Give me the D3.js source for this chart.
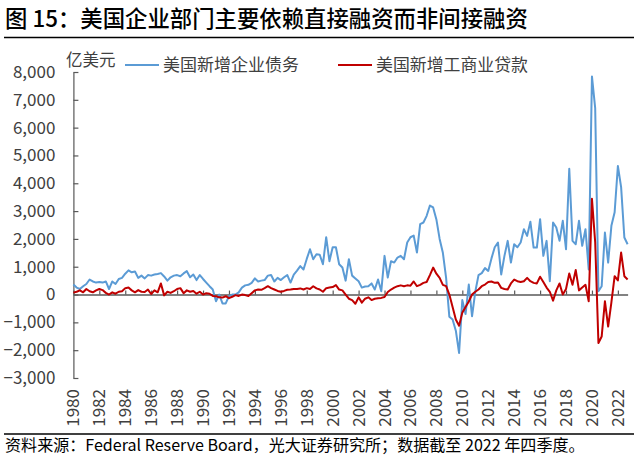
<!DOCTYPE html>
<html><head><meta charset="utf-8">
<script src="https://cdn.jsdelivr.net/npm/d3@7"></script>
<style>
html,body{margin:0;padding:0;background:#fff;}
svg{display:block;font-family:"Noto Sans CJK SC","Noto Sans",sans-serif;}
</style></head>
<body><svg id="c" width="640" height="461"></svg>
<script>
const titleText = "图 15：美国企业部门主要依赖直接融资而非间接融资";
const sourceText = "资料来源：Federal Reserve Board，光大证券研究所；数据截至 2022 年四季度。";
const unitText = "亿美元";
const seriesNames = ["美国新增企业债务", "美国新增工商业贷款"];
const startYear = 1980;
const yearLabels = ["1980","1982","1984","1986","1988","1990","1992","1994","1996","1998","2000","2002","2004","2006","2008","2010","2012","2014","2016","2018","2020","2022"];
const yTicks = [-3000,-2000,-1000,0,1000,2000,3000,4000,5000,6000,7000,8000];

// quarterly, 1980Q1 - 2022Q4
const bonds = [
 360,250,200,300, 380,540,470,430, 450,430,470,200, 470,380,560,600,
 750,870,800,830, 600,680,580,700, 680,720,740,770, 650,500,620,680,
 700,660,760,840, 620,720,520,700, 560,430,300,180, -240,0,-320,-320,
 -60,0,0,80, 250,330,350,420, 580,470,500,520, 680,700,470,600,
 520,620,700,430, 720,860,1020,900, 1280,1630,1270,1450, 1430,1090,2060,1200,
 1700,1700,1090,970, 500,1270,680,580, 480,250,290,300, 400,180,540,120,
 1390,610,1200,1150, 1330,1390,1270,1870, 2060,2120,1510,2530, 2590,2830,3200,3130,
 2700,2000,1500,600, -800,-900,-1300,-2100, -200,-700,360,-780, 100,700,770,950,
 850,1300,1700,1870, 720,1390,1930,1150, 1810,1700,1870,2350, 2110,2620,1690,1690,
 2710,1390,1930,480, 2590,2410,1930,2650, 1630,4520,1930,1810, 2650,1750,2350,900,
 7840,6700,120,300, 2230,1150,2470,2960, 4620,3860,2050,1810
];
const loans = [
 70,100,150,80, 200,120,80,150, 200,160,60,0, 80,30,100,120,
 230,250,150,80, 160,100,90,180, 20,150,80,400, -30,100,60,120,
 200,230,50,150, 100,130,30,100, 0,50,30,-50, -60,-100,-110,-60,
 -130,-80,-20,-50, 0,-20,-50,50, 150,180,170,230, 300,230,180,130,
 100,130,170,180, 200,200,220,180, 230,200,300,220, 180,100,230,250,
 270,340,180,150, 0,-150,-200,-330, -100,-290,-150,-100, -200,-150,-130,-120,
 -90,90,180,250, 300,330,300,330, 320,470,300,350, 420,450,700,970,
 750,600,350,300, 0,-450,-900,-1120, -650,-450,-250,0, 100,180,300,360,
 450,470,420,430, 240,200,180,400, 540,480,450,480, 600,480,420,400,
 640,450,250,100, -220,150,400,0, 200,760,350,880, 150,250,350,-240,
 3440,1880,-1740,-1510, -240,-1150,-280,660, 510,1510,660,540
];
const colors = ["#5B9BD5", "#C00000"];

const svg = d3.select("#c");
const n = bonds.length;
const x = d3.scaleLinear().domain([0, n - 1]).range([73.4, 627.6]);
const y = d3.scaleLinear().domain([-3000, 8000]).range([378, 72]);

function fitText(sel, target) {
  const w = sel.node().getComputedTextLength();
  const fs = parseFloat(sel.attr("font-size"));
  sel.attr("font-size", (fs * target / w).toFixed(2));
}

// title
const t = svg.append("text").attr("x", 5).attr("y", 27).attr("font-size", 21)
  .attr("font-weight", 500).attr("fill", "#000").text(titleText);
fitText(t, 523);
svg.append("line").attr("x1", 4).attr("x2", 634).attr("y1", 37.5).attr("y2", 37.5)
  .attr("stroke", "#000").attr("stroke-width", 1.3);

// unit
svg.append("text").attr("x", 66).attr("y", 66).attr("font-size", 16.5).attr("fill", "#404040").text(unitText);

// legend
const legX = [125, 338];
seriesNames.forEach((s, k) => {
  svg.append("line").attr("x1", legX[k]).attr("x2", legX[k] + 34).attr("y1", 65).attr("y2", 65)
    .attr("stroke", colors[k]).attr("stroke-width", 2);
  const lt = svg.append("text").attr("x", legX[k] + 38).attr("y", 71).attr("font-size", 17)
    .attr("fill", "#404040").text(s);
  fitText(lt, k === 0 ? 136 : 152);
});

// y axis
const ya = svg.append("g").attr("transform", "translate(73.4,0)")
  .call(d3.axisLeft(y).tickValues(yTicks).tickSize(-5).tickSizeOuter(0).tickPadding(18).tickFormat(d3.format(",")));
ya.select(".domain").attr("stroke", "#595959").attr("stroke-width", 1.2);
ya.selectAll(".tick line").attr("stroke", "#595959").attr("stroke-width", 1.2);
ya.selectAll(".tick text").attr("font-size", 17).attr("fill", "#404040")
  .attr("font-family", '"Noto Sans CJK SC",sans-serif');

// x axis at zero
const tickIdx = yearLabels.map(l => (parseInt(l) - startYear) * 4);
const xa = svg.append("g").attr("transform", `translate(0,${y(0)})`)
  .call(d3.axisBottom(x).tickValues(tickIdx).tickSize(-4).tickSizeOuter(0).tickFormat(""));
xa.select(".domain").attr("stroke", "#595959").attr("stroke-width", 1.5);
xa.selectAll(".tick line").attr("stroke", "#595959").attr("stroke-width", 1.2);

// x labels at bottom, rotated
svg.append("g").selectAll("text").data(yearLabels).join("text")
  .attr("transform", (d, i) => `translate(${x(tickIdx[i]) + 6},389) rotate(-90)`)
  .attr("text-anchor", "end").attr("font-size", 17).attr("fill", "#404040").text(d => d);

// lines
const line = d3.line().x((d, i) => x(i)).y(d => y(d));
[bonds, loans].forEach((s, k) => {
  svg.append("path").datum(s).attr("d", line).attr("fill", "none")
    .attr("stroke", colors[k]).attr("stroke-width", 2).attr("stroke-linejoin", "round");
});

// bottom rule and source
svg.append("line").attr("x1", 4).attr("x2", 634).attr("y1", 434).attr("y2", 434)
  .attr("stroke", "#000").attr("stroke-width", 1.3);
const st = svg.append("text").attr("x", 5).attr("y", 451).attr("font-size", 16).attr("fill", "#000").text(sourceText);
fitText(st, 580);
</script></body></html>
